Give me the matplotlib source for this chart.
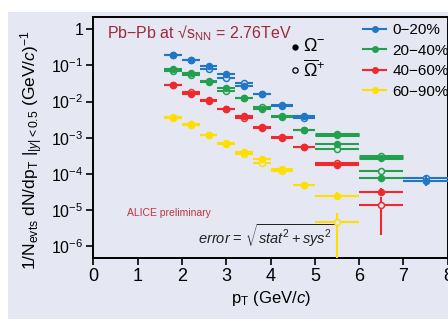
import matplotlib
matplotlib.use("Agg")
import matplotlib.pyplot as plt
from matplotlib.lines import Line2D
from matplotlib.patches import Rectangle

plt.rcParams['font.family'] = ['Liberation Sans', 'DejaVu Sans']
plt.rcParams['mathtext.fontset'] = 'custom'
plt.rcParams['mathtext.rm'] = 'Liberation Sans'
plt.rcParams['mathtext.it'] = 'Liberation Sans:italic'
plt.rcParams['mathtext.bf'] = 'Liberation Sans:bold'
plt.rcParams['mathtext.sf'] = 'Liberation Sans'

# ---------------- data ----------------
pt_centers = [1.8, 2.2, 2.6, 3.0, 3.4, 3.8, 4.25, 4.75, 5.5, 6.5, 7.5]
pt_halfw = [0.2, 0.2, 0.2, 0.2, 0.2, 0.2, 0.25, 0.25, 0.5, 0.5, 0.5]

centralities = ['0\u221220%', '20\u221240%', '40\u221260%', '60\u221290%']
colors = ['#1f77c6', '#22a04e', '#ee2a2e', '#ffdf00']

# Omega^- (filled)
om_0_20 = [0.19, 0.138, 0.098, 0.057, 0.0266, 0.0163, 0.0082, 0.0040, None, None, 6.4e-5]
om_20_40 = [0.079, 0.061, 0.037, 0.023, 0.0124, 0.0064, 0.0041, 0.00163, 6.8e-4, 7.7e-5, None]
om_40_60 = [0.028, 0.0166, 0.0111, 0.0062, 0.0040, 0.00194, 0.00107, 5.4e-4, 1.7e-4, 3.2e-5, None]
om_60_90 = [0.0038, 0.0024, 0.0012, 7.3e-4, 3.9e-4, 2.6e-4, 1.34e-4, 4.9e-5, 2.35e-5, None, None]

# anti-Omega^+ (open)
omb_0_20 = [0.19, 0.138, 0.079, 0.046, 0.0316, 0.0163, 0.0074, 0.0035, None, None, 7.8e-5]
omb_20_40 = [0.071, 0.053, 0.034, 0.020, 0.0124, 0.0072, 0.0037, 0.00163, 4.8e-4, 1.16e-4, None]
omb_40_60 = [0.028, 0.018, 0.0102, 0.0062, 0.0034, 0.0018, 0.00098, 5.4e-4, 2.0e-4, 1.38e-5, None]
omb_60_90 = [0.0034, 0.0022, 0.0012, 6.5e-4, 3.5e-4, 1.94e-4, 1.16e-4, 4.9e-5, 4.5e-6, None, None]

# extra green bins drawn with thick bars (5-6, 6-7 GeV/c)
extra_pt = [5.5, 6.5]
extra_halfw = [0.5, 0.5]
extra_om = [1.16e-3, 2.8e-4]
extra_omb = [1.29e-3, 3.2e-4]

# visible vertical errors (lower, upper), zero where hidden
yerr_om_0_20 = ([0]*10 + [1.8e-5], [0]*10 + [3.0e-5])
yerr_om_40_60 = ([0]*9 + [0.55e-5, 0], [0]*9 + [0.8e-5, 0])
yerr_omb_40_60 = ([0]*9 + [1.18e-5, 0], [0]*9 + [0.9e-5, 0])
yerr_om_60_90 = ([0]*7 + [0.85e-5, 0.53e-5, 0, 0], [0]*7 + [1.0e-5, 0.68e-5, 0, 0])
yerr_omb_60_90 = ([0]*8 + [4.45e-6, 0, 0], [0]*8 + [3.8e-6, 0, 0])

ytick_vals = [1e-6, 1e-5, 1e-4, 1e-3, 1e-2, 1e-1, 1]
ytick_labels = ['10$^{-6}$', '10$^{-5}$', '10$^{-4}$', '10$^{-3}$',
                '10$^{-2}$', '10$^{-1}$', '1']
xtick_vals = [0, 1, 2, 3, 4, 5, 6, 7, 8]

BG = '#e5e7f3'

fig = plt.figure(figsize=(4.48, 3.28), dpi=100, facecolor='white')
fig.patches.append(Rectangle((8/448, 9/328), 1 - 8/448, 1 - 21/328, transform=fig.transFigure,
                             facecolor=BG, edgecolor='none', zorder=-10))
ax = fig.add_axes([93.3/448, 70/328, 354.5/448, 240.7/328])
ax.set_facecolor(BG)
ax.set_yscale('log')
ax.set_xlim(0, 8)
ax.set_ylim(10**-6.333, 10**0.333)


def draw(vals, color, filled, yerr=None, lw=1.5):
    x, xe, y, ylo, yhi = [], [], [], [], []
    for i, v in enumerate(vals):
        if v is None:
            continue
        x.append(pt_centers[i]); xe.append(pt_halfw[i]); y.append(v)
        if yerr is not None:
            ylo.append(yerr[0][i]); yhi.append(yerr[1][i])
        else:
            ylo.append(0); yhi.append(0)
    ax.errorbar(x, y, xerr=xe, yerr=[ylo, yhi], fmt='o', color=color, ms=4.3,
                mfc=color if filled else BG, mec=color, mew=1.1, elinewidth=lw,
                capsize=0, zorder=4 if filled else 3)


series_f = [om_0_20, om_20_40, om_40_60, om_60_90]
series_o = [omb_0_20, omb_20_40, omb_40_60, omb_60_90]
yerr_f = [yerr_om_0_20, None, yerr_om_40_60, yerr_om_60_90]
yerr_o = [None, None, yerr_omb_40_60, yerr_omb_60_90]
for k in range(4):
    draw(series_o[k], colors[k], False, yerr_o[k])
    draw(series_f[k], colors[k], True, yerr_f[k])

ax.errorbar(extra_pt, extra_omb, xerr=extra_halfw, fmt='o', color=colors[1], ms=4.3,
            mfc=BG, mec=colors[1], mew=1.1, elinewidth=2.2, capsize=0, zorder=3)
ax.errorbar(extra_pt, extra_om, xerr=extra_halfw, fmt='o', color=colors[1], ms=4.3,
            mfc=colors[1], mec=colors[1], elinewidth=2.2, capsize=0, zorder=4)

# axes styling
for s in ax.spines.values():
    s.set_linewidth(1.4)
ax.set_yticks(ytick_vals)
ax.set_yticklabels(ytick_labels, fontsize=11.5)
ax.set_xticks(xtick_vals)
ax.set_xticklabels([str(v) for v in xtick_vals], fontsize=13)
ax.minorticks_off()
ax.tick_params(axis='both', direction='out', length=5, width=1.2, pad=2)
ax.set_xlabel(r'p$_{\mathrm{T}}$ (GeV/$c$)', fontsize=12, labelpad=3)
ax.set_ylabel(r'1/N$_{\mathrm{evts}}$ dN/dp$_{\mathrm{T}}$ |$_{|y|<0.5}$ (GeV/$c$)$^{-1}$',
              fontsize=12.5)
ax.yaxis.set_label_coords(-0.135, 0.45)

# annotations
ax.text(0.039, 0.935, 'Pb\u2212Pb at \u221As$_{\\mathrm{NN}}$ = 2.76TeV',
        transform=ax.transAxes, fontsize=11.5, color='#9b2a3a', va='center', ha='left')
ax.text(0.095, 0.187, 'ALICE preliminary', transform=ax.transAxes, fontsize=7.5,
        color='#c0343e', va='center', ha='left')
ax.text(0.296, 0.093, r'$error$ = $\sqrt{stat^2 + sys^2}$', transform=ax.transAxes,
        fontsize=10.5, color='#222222', va='center', ha='left')

ax.plot([0.569], [0.878], 'o', color='black', ms=3.5, transform=ax.transAxes, clip_on=False)
ax.plot([0.569], [0.781], 'o', mfc=BG, mec='black', ms=3.8, mew=0.9, transform=ax.transAxes,
        clip_on=False)
ax.text(0.592, 0.878, r'$\Omega^{-}$', transform=ax.transAxes, fontsize=13, va='center', ha='left')
ax.text(0.592, 0.781, r'$\overline{\Omega}^{+}$', transform=ax.transAxes, fontsize=13,
        va='center', ha='left')

handles = [Line2D([], [], color=c, marker='o', ms=4, lw=1.5) for c in colors]
ax.legend(handles, centralities, loc='upper left', bbox_to_anchor=(0.762, 0.975),
          frameon=False, fontsize=11, handlelength=1.45, handletextpad=0.45,
          labelspacing=0.42, borderpad=0, borderaxespad=0)

fig.savefig('out.png', dpi=100, facecolor='white')
